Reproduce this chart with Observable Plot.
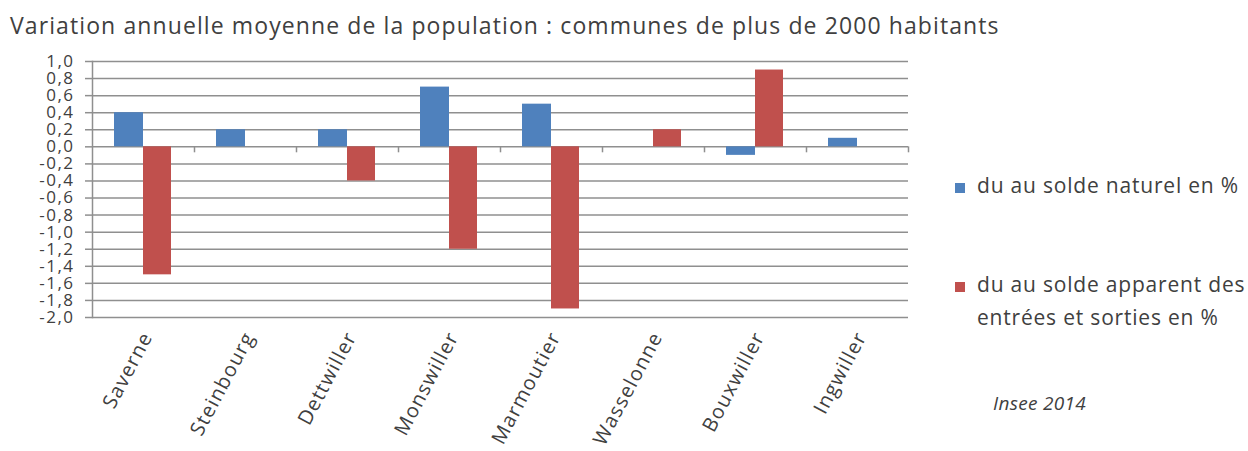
<!DOCTYPE html>
<html>
<head>
<meta charset="utf-8">
<script src="https://cdn.jsdelivr.net/npm/d3@7"></script>
<script src="https://cdn.jsdelivr.net/npm/@observablehq/plot@0.6"></script>
<style>
  body { margin: 0; background: #fff; font-family: "Open Sans", sans-serif; color: #404040; }
  #wrap { position: relative; width: 1248px; height: 451px; overflow: hidden; }
  #title { position: absolute; left: 10px; top: 9px; font-size: 23px; line-height: normal; letter-spacing: 1.1px; white-space: nowrap; }
  #chart { position: absolute; left: 0; top: 48px; }
  .leg { position: absolute; left: 955px; font-size: 21px; line-height: 33px; letter-spacing: 0.8px; }
  .leg .sw { position: absolute; left: 0; top: 14px; width: 10px; height: 10px; }
  .leg .tx { margin-left: 22px; width: 290px; }
  #source { position: absolute; left: 993px; top: 390px; font-size: 19px; line-height: normal; font-style: italic; letter-spacing: 0.3px; }
</style>
</head>
<body>
<div id="wrap">
  <div id="title">Variation annuelle moyenne de la population : communes de plus de 2000 habitants</div>
  <div id="chart"></div>
  <div id="legend"></div>
  <div id="source">Insee 2014</div>
</div>
<script>
// Communes of more than 2000 inhabitants
const communes = ["Saverne", "Steinbourg", "Dettwiller", "Monswiller", "Marmoutier", "Wasselonne", "Bouxwiller", "Ingwiller"];
// Average annual change (%) due to natural balance (births - deaths)
const soldeNaturel = [0.4, 0.2, 0.2, 0.7, 0.5, 0.0, -0.1, 0.1];
// Average annual change (%) due to net migration
const soldeApparent = [-1.5, 0.0, -0.4, -1.2, -1.9, 0.2, 0.9, 0.0];
const seriesNames = ["du au solde naturel en %", "du au solde apparent des entrées et sorties en %"];
const seriesColors = ["#4F81BD", "#C0504D"];
const yTicks = [1.0, 0.8, 0.6, 0.4, 0.2, 0.0, -0.2, -0.4, -0.6, -0.8, -1.0, -1.2, -1.4, -1.6, -1.8, -2.0];

const rows = communes.flatMap((c, i) => [
  {commune: c, serie: seriesNames[0], value: soldeNaturel[i]},
  {commune: c, serie: seriesNames[1], value: soldeApparent[i]}
]);

const W = 1248, H = 403, mL = 92, mR = 340;
const band = (W - mL - mR) / communes.length;
const gridColor = "#8f8f8f";
const textColor = "#404040";
const fmt = (d) => d3.format(".1f")(d).replace(".", ",").replace("\u2212", "-");

const chart = Plot.plot({
  width: W,
  height: H,
  marginTop: 13,
  marginLeft: mL,
  marginRight: mR,
  marginBottom: 134,
  style: {fontFamily: "Open Sans, sans-serif", fontSize: "17px", color: textColor, background: "#fff"},
  x: {domain: communes, padding: 0, label: null},
  y: {domain: [-2, 1], label: null},
  color: {domain: seriesNames, range: seriesColors},
  marks: [
    Plot.gridY(yTicks, {stroke: gridColor, strokeOpacity: 1, strokeWidth: 1.5}),
    Plot.axisY(yTicks, {tickFormat: fmt, tickSize: 7, tickPadding: 11, stroke: gridColor, strokeWidth: 1.5, fill: textColor, fontSize: 17, label: null}),
    Plot.frame({anchor: "left", stroke: gridColor, strokeWidth: 1.5}),
    Plot.barY(rows.filter(d => d.serie === seriesNames[0]), {x: "commune", y: "value", fill: "serie", insetLeft: 22, insetRight: 51}),
    Plot.barY(rows.filter(d => d.serie === seriesNames[1]), {x: "commune", y: "value", fill: "serie", insetLeft: 51, insetRight: 23}),
    Plot.ruleX(communes, {x: d => d, y1: 0, y2: -0.07, dx: band / 2, stroke: gridColor, strokeWidth: 1.5}),
    Plot.axisX({tickSize: 0, tickRotate: -62, tickPadding: 16, dx: 4, fontSize: 20, fill: textColor, label: null})
  ]
});

// Slightly wider tracking on the tick labels
d3.select(chart).selectAll("g[aria-label='y-axis tick label'] text").attr("letter-spacing", "1.5px");
d3.select(chart).selectAll("g[aria-label='x-axis tick label'] text").attr("letter-spacing", "1.2px");
document.getElementById("chart").appendChild(chart);

// Legend on the right
const legend = document.getElementById("legend");
const legendTops = [169, 268];
seriesNames.forEach((name, i) => {
  const item = document.createElement("div");
  item.className = "leg";
  item.style.top = legendTops[i] + "px";
  const sw = document.createElement("span");
  sw.className = "sw";
  sw.style.background = seriesColors[i];
  const tx = document.createElement("div");
  tx.className = "tx";
  tx.textContent = name;
  item.appendChild(sw);
  item.appendChild(tx);
  legend.appendChild(item);
});
</script>
</body>
</html>
